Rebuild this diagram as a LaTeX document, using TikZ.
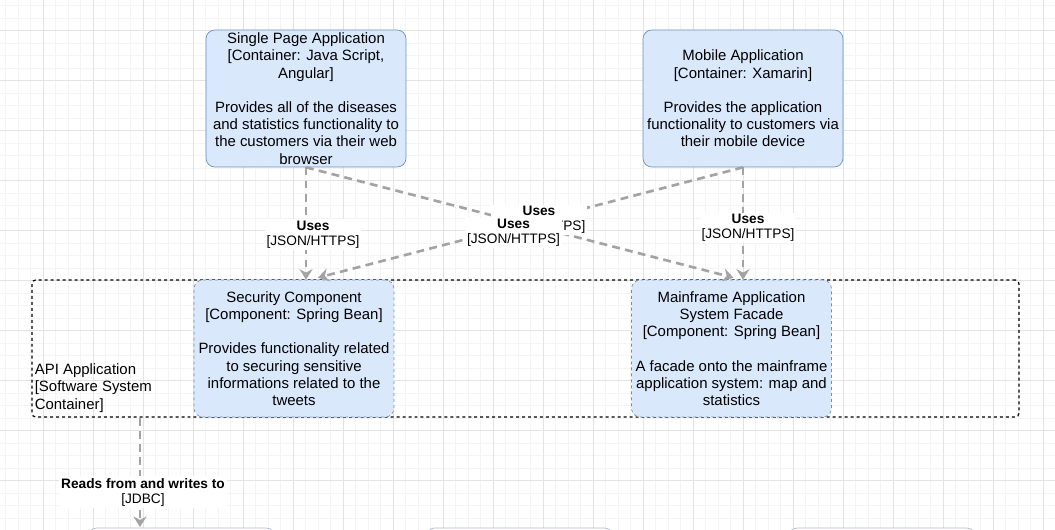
\documentclass[tikz,border=0pt]{standalone}
\usepackage{fontspec}
\setmainfont{Liberation Sans}
\usepackage{xcolor}
\usetikzlibrary{arrows.meta, calc, positioning}
\definecolor{boxfill}{HTML}{DAE8FC}
\definecolor{boxline}{HTML}{6C8EBF}
\definecolor{relgrey}{HTML}{A3A3A3}
\definecolor{gridminor}{HTML}{F4F4F4}
\definecolor{gridmajor}{HTML}{E3E3E3}
\definecolor{dbline}{HTML}{AEB9CB}

\begin{document}
\begin{tikzpicture}[x=0.02cm, y=-0.02cm, >={Stealth[length=6pt, width=7.5pt, inset=2pt]}, rel/.style={draw=relgrey, line width=1.5pt, dash pattern=on 4.5pt off 3pt}, gridline/.style={line width=0.6pt}]
% Define styles for containers, components, boundary and labels
\tikzstyle{container} = [draw=boxline, fill=boxfill, rectangle, rounded corners=5pt, minimum width=4cm, minimum height=2.74cm, inner sep=0pt, align=center, font=\fontsize{8.5}{9.8}\selectfont]
\tikzstyle{component} = [container, dash pattern=on 1.7pt off 1.7pt]
\tikzstyle{boundary} = [draw=black, rectangle, rounded corners=2pt, dash pattern=on 1.7pt off 1.7pt, line width=0.7pt, minimum width=19.74cm, minimum height=2.74cm, inner sep=0pt]
\tikzstyle{rellabel} = [fill=white, inner sep=1pt, align=center, font=\fontsize{7.8}{8.5}\selectfont]
\tikzstyle{dbbox} = [draw=dbline, fill=white, rectangle, rounded corners=5pt, minimum width=3.74cm, minimum height=1.6cm, inner sep=0pt]

\useasboundingbox (0,0) rectangle (1055,530);

% Background grid
\foreach \i in {0,...,84} \draw[gridline, gridminor] ({5.83+12.5*\i},0) -- ++(0,530);
\foreach \j in {0,...,42} \draw[gridline, gridminor] (0,{5.67+12.5*\j}) -- ++(1055,0);
\foreach \i in {0,...,20} \draw[gridline, gridmajor] ({43.33+50*\i},0) -- ++(0,530);
\foreach \j in {0,...,10} \draw[gridline, gridmajor] (0,{30.67+50*\j}) -- ++(1055,0);

% Nodes placement
\node [container] (spa) at (306,98.5) {Single Page Application\\{[}Container: Java Script,\\Angular{]}\\[9.8pt]Provides all of the diseases\\and statistics functionality to\\the customers via their web\\browser};
\node [container] (mobile) at (743,98.5) {Mobile Application\\{[}Container: Xamarin{]}\\[9.8pt]Provides the application\\functionality to customers via\\their mobile device};

% API Application boundary
\node [boundary] (api) at (525.5,348.5) {};
\node [anchor=south west, align=left, inner sep=0pt, font=\fontsize{8.5}{9.8}\selectfont] (apilabel) at ($(api.south west)+(3,-5)$) {API Application\\{[}Software System\\Container{]}};

\node [component] (security) at (294,348.5) {Security Component\\{[}Component: Spring Bean{]}\\[9.8pt]Provides functionality related\\to securing sensitive\\informations related to the\\tweets};
\node [component] (facade) at (731.5,348.5) {Mainframe Application\\System Facade\\{[}Component: Spring Bean{]}\\[9.8pt]A facade onto the mainframe\\application system: map and\\statistics};

% Boxes below, cut by the page edge
\begin{scope}
\clip (0,0) rectangle (1055,530);
\node [dbbox] (db1) at (181.5,568) {};
\node [dbbox] (db2) at (519.5,568) {};
\node [dbbox] (db3) at (882,568) {};
\end{scope}
\coordinate (dbin) at (140,527);

% Draw edges
\draw[rel,->] (spa.south) -- (spa.south |- security.north) node[rellabel, pos=0.6, xshift=0.14cm] {\textbf{Uses}\\{[}JSON/HTTPS{]}};
\draw[rel,->] (mobile.south) -- (mobile.south |- facade.north) node[rellabel, pos=0.54, xshift=0.1cm] {\textbf{Uses}\\{[}JSON/HTTPS{]}};
\draw[rel,->] (mobile.south) -- ($(security.north)+(24,-2)$);
\draw[rel,->] (spa.south) -- ($(facade.north)+(2,-2)$) node[rellabel, pos=0.545, yshift=0.15cm] {\textbf{Uses}\\{[}JSON/HTTPS{]}};
% label of the crossing edge goes on top
\path (mobile.south) -- ($(security.north)+(24,-2)$) node[rellabel, pos=0.54, yshift=-0.12cm] {\textbf{Uses}\\{[}JSON/HTTPS{]}};

\draw[rel,->] (api.south west -| dbin) -- (dbin) node[rellabel, pos=0.68, xshift=0.06cm] {\textbf{Reads from and writes to}\\{[}JDBC{]}};
\end{tikzpicture}
\end{document}
